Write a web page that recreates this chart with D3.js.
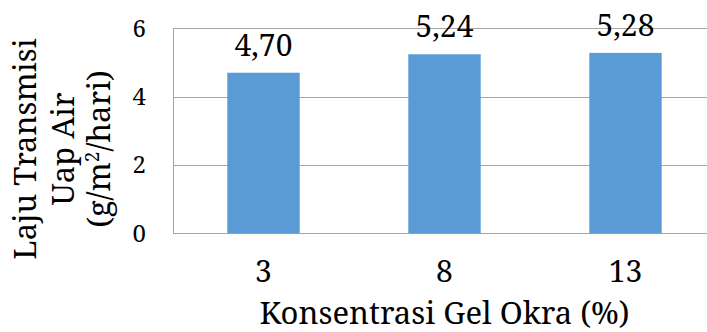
<!DOCTYPE html>
<html>
<head>
<meta charset="utf-8">
<script src="https://cdn.jsdelivr.net/npm/d3@7"></script>
<style>
  body { margin: 0; background: #fff; }
  svg { display: block; }
  text { font-family: "Noto Serif", serif; fill: #000; }
</style>
</head>
<body>
<svg id="chart" width="707" height="332"></svg>
<script>
// Data
const categories = ["3", "8", "13"];
const values = [4.70, 5.24, 5.28];
const valueLabels = ["4,70", "5,24", "5,28"];
const yTicks = [0, 2, 4, 6];
const yTitleLines = ["Laju Transmisi", "Uap Air"];
const xTitle = "Konsentrasi Gel Okra (%)";

// Colours and layout
const COLORS = {
  bar: "#5B9BD5",
  grid: "#A6A6A6",
};

const FONT_SIZES = {
  label: "30px",
  title: "31px",
  yTick: "24px",
  sup: "19px",
};

const PLOT = { left: 173, right: 716, top: 28.3, bottom: 233.3 };

const svg = d3.select("#chart");

svg.append("rect")
  .attr("width", 707)
  .attr("height", 332)
  .attr("fill", "#fff");

// Scales
const xScale = d3.scaleBand()
  .domain(categories)
  .range([PLOT.left, PLOT.right])
  .paddingInner(0.6)
  .paddingOuter(0.3);

const yScale = d3.scaleLinear()
  .domain([0, 6])
  .range([PLOT.bottom, PLOT.top]);

// Gridlines
svg.append("g")
  .selectAll("line")
  .data(yTicks)
  .enter()
  .append("line")
  .attr("x1", PLOT.left)
  .attr("x2", PLOT.right)
  .attr("y1", (d) => Math.round(yScale(d)) + 0.5)
  .attr("y2", (d) => Math.round(yScale(d)) + 0.5)
  .attr("stroke", COLORS.grid)
  .attr("stroke-width", 1);

// Left axis line
svg.append("line")
  .attr("x1", PLOT.left + 0.5)
  .attr("x2", PLOT.left + 0.5)
  .attr("y1", Math.round(yScale(6)) + 0.5)
  .attr("y2", Math.round(yScale(0)) + 0.5)
  .attr("stroke", COLORS.grid);

// Bars
const data = categories.map((c, i) => ({ cat: c, value: values[i], label: valueLabels[i] }));

svg.append("g")
  .selectAll("rect")
  .data(data)
  .enter()
  .append("rect")
  .attr("x", (d) => xScale(d.cat))
  .attr("y", (d) => yScale(d.value))
  .attr("width", xScale.bandwidth())
  .attr("height", (d) => yScale(0) - yScale(d.value))
  .attr("fill", COLORS.bar);

// Value labels
svg.append("g")
  .selectAll("text")
  .data(data)
  .enter()
  .append("text")
  .attr("x", (d) => xScale(d.cat) + xScale.bandwidth() / 2)
  .attr("y", (d) => yScale(d.value) - 17)
  .attr("text-anchor", "middle")
  .style("font-size", FONT_SIZES.label)
  .text((d) => d.label);

// Y tick labels
svg.append("g")
  .selectAll("text")
  .data(yTicks)
  .enter()
  .append("text")
  .attr("x", 146)
  .attr("y", (d) => yScale(d) + 8.5)
  .attr("text-anchor", "end")
  .style("font-size", FONT_SIZES.yTick)
  .text((d) => d);

// X tick labels
svg.append("g")
  .selectAll("text")
  .data(categories)
  .enter()
  .append("text")
  .attr("x", (d) => xScale(d) + xScale.bandwidth() / 2)
  .attr("y", 282)
  .attr("text-anchor", "middle")
  .style("font-size", FONT_SIZES.label)
  .text((d) => d);

// X title
svg.append("text")
  .attr("x", xScale("8") + xScale.bandwidth() / 2)
  .attr("y", 324)
  .attr("text-anchor", "middle")
  .style("font-size", FONT_SIZES.title)
  .text(xTitle);

// Y title (rotated, three lines)
const yTitle = svg.append("g")
  .attr("transform", "translate(0, 149) rotate(-90)");

const yTitleBaselines = [36, 74, 110];

yTitleLines.forEach((line, i) => {
  yTitle.append("text")
    .attr("x", 0)
    .attr("y", yTitleBaselines[i])
    .attr("text-anchor", "middle")
    .style("font-size", FONT_SIZES.title)
    .text(line);
});

const unitLine = yTitle.append("text")
  .attr("x", 0)
  .attr("y", yTitleBaselines[2])
  .attr("text-anchor", "middle")
  .style("font-size", FONT_SIZES.title);
unitLine.append("tspan").text("(g/m");
unitLine.append("tspan").attr("dy", -11).style("font-size", FONT_SIZES.sup).text("2");
unitLine.append("tspan").attr("dy", 11).text("/hari)");
</script>
</body>
</html>
